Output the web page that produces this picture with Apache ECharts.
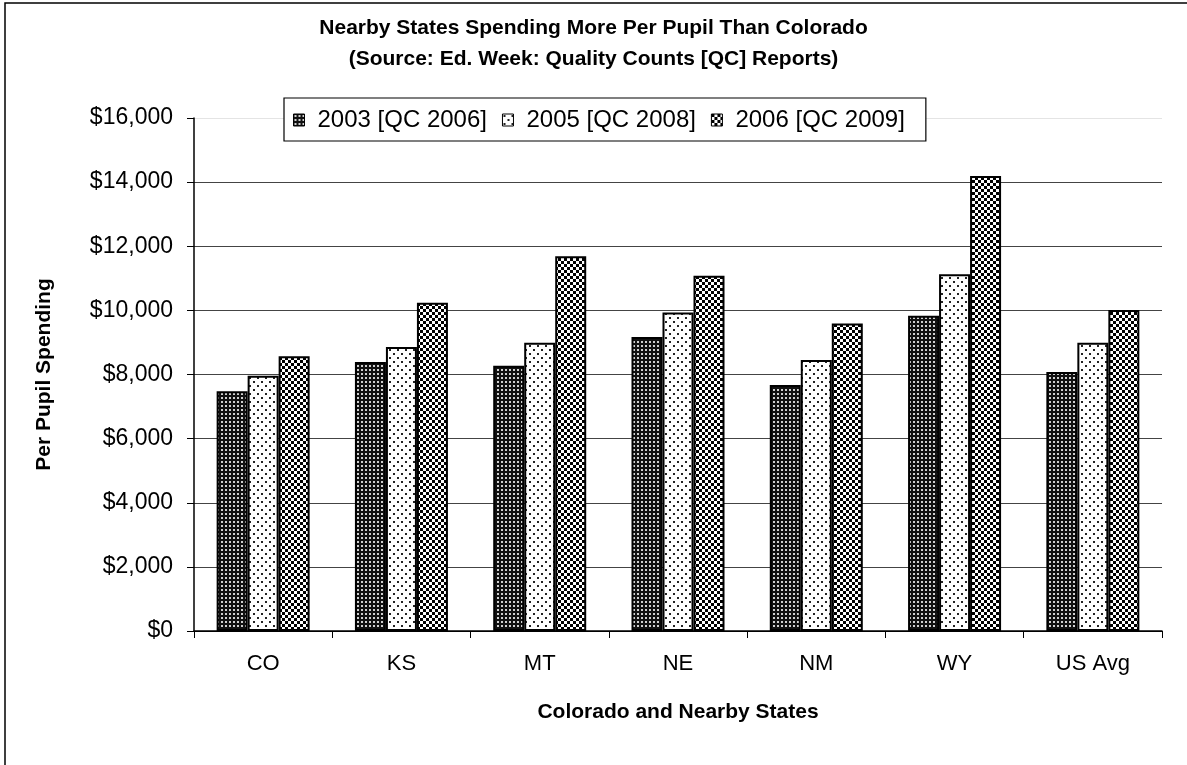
<!DOCTYPE html>
<html>
<head>
<meta charset="utf-8">
<script src="https://cdn.jsdelivr.net/npm/echarts@6/dist/echarts.min.js"></script>
<style>
html,body{margin:0;padding:0;background:#fff;}
#c{width:1187px;height:765px;}
</style>
</head>
<body>
<div id="c"></div>
<script>
var categories = ['CO', 'KS', 'MT', 'NE', 'NM', 'WY', 'US Avg'];
var seriesNames = ['2003 [QC 2006]', '2005 [QC 2008]', '2006 [QC 2009]'];
var s2003 = [7480, 8390, 8270, 9170, 7670, 9830, 8080];
var s2005 = [7960, 8860, 8990, 9930, 8450, 11130, 8990];
var s2006 = [8570, 10240, 11690, 11080, 9590, 14190, 10010];
var yTicks = [0, 2000, 4000, 6000, 8000, 10000, 12000, 14000, 16000];

function makePattern(size, draw) {
  var c = document.createElement('canvas');
  c.width = size; c.height = size;
  var g = c.getContext('2d');
  draw(g);
  return { image: c, repeat: 'repeat' };
}
var pat2003 = makePattern(4, function (g) {
  g.fillStyle = '#111'; g.fillRect(0, 0, 4, 4);
  g.fillStyle = '#d0d0d0'; g.fillRect(1, 1, 2, 2);
});
var pat2005 = makePattern(8, function (g) {
  g.fillStyle = '#fff'; g.fillRect(0, 0, 8, 8);
  g.fillStyle = '#222'; g.fillRect(1, 1, 2, 2); g.fillRect(5, 5, 2, 2);
});
var pat2006 = makePattern(6, function (g) {
  g.fillStyle = '#fff'; g.fillRect(0, 0, 6, 6);
  g.fillStyle = '#000'; g.fillRect(0, 0, 3, 3); g.fillRect(3, 3, 3, 3);
});

var FONT = 'Liberation Sans, Arial, sans-serif';
var chart = echarts.init(document.getElementById('c'), null, { renderer: 'canvas' });

function bar(name, data, pat) {
  return {
    name: name, type: 'bar', data: data,
    barWidth: 31, barGap: '0%',
    itemStyle: { color: pat, borderColor: '#000', borderWidth: 2 }
  };
}

var gridColors = ['#000', '#444', '#444', '#444', '#444', '#444', '#444', '#444', '#e4e4e4'];

chart.setOption({
  animation: false,
  backgroundColor: '#fff',
  textStyle: { fontFamily: FONT },
  graphic: [{
    type: 'rect', shape: { x: 5, y: 3, width: 1230, height: 820 },
    style: { fill: 'none', stroke: '#000', lineWidth: 1.5 }, silent: true, z: 100
  }],
  title: {
    text: 'Nearby States Spending More Per Pupil Than Colorado\n(Source: Ed. Week: Quality Counts [QC] Reports)',
    left: 'center', top: 13, padding: 0,
    textStyle: { fontFamily: FONT, fontSize: 21, fontWeight: 'bold', color: '#000', lineHeight: 31 }
  },
  legend: {
    data: seriesNames,
    left: 284, top: 98, orient: 'horizontal',
    padding: [10, 21, 9, 9],
    itemWidth: 11, itemHeight: 12, itemGap: 15,
    icon: 'rect',
    borderColor: '#000', borderWidth: 1.2, backgroundColor: '#fff',
    itemStyle: { borderWidth: 1 },
    textStyle: { fontFamily: FONT, fontSize: 24, color: '#000', padding: [0, 0, 0, 8] },
    z: 10
  },
  grid: { left: 194, right: 25, top: 118, bottom: 134, containLabel: false },
  xAxis: {
    type: 'category', data: categories,
    name: 'Colorado and Nearby States', nameLocation: 'middle', nameGap: 71,
    nameTextStyle: { fontFamily: FONT, fontSize: 21, fontWeight: 'bold', color: '#000' },
    axisLine: { lineStyle: { color: '#000', width: 1.5 } },
    axisTick: { show: true, alignWithLabel: false, length: 7, lineStyle: { color: '#000', width: 1 } },
    axisLabel: { fontFamily: FONT, fontSize: 22, color: '#000', margin: 22 }
  },
  yAxis: {
    type: 'value', min: yTicks[0], max: yTicks[yTicks.length - 1], interval: 2000,
    name: 'Per Pupil Spending', nameLocation: 'middle', nameGap: 139,
    nameTextStyle: { fontFamily: FONT, fontSize: 21, fontWeight: 'bold', color: '#000' },
    axisLine: { show: true, lineStyle: { color: '#000', width: 1.5 } },
    axisTick: { show: true, length: 7, lineStyle: { color: '#000', width: 1 } },
    axisLabel: {
      fontFamily: FONT, fontSize: 23, color: '#000', margin: 21,
      formatter: function (v) { return '$' + v.toLocaleString('en-US'); }
    },
    splitLine: { show: true, lineStyle: { color: gridColors, width: 1 } }
  },
  series: [
    bar(seriesNames[0], s2003, pat2003),
    bar(seriesNames[1], s2005, pat2005),
    bar(seriesNames[2], s2006, pat2006)
  ]
});
</script>
</body>
</html>
